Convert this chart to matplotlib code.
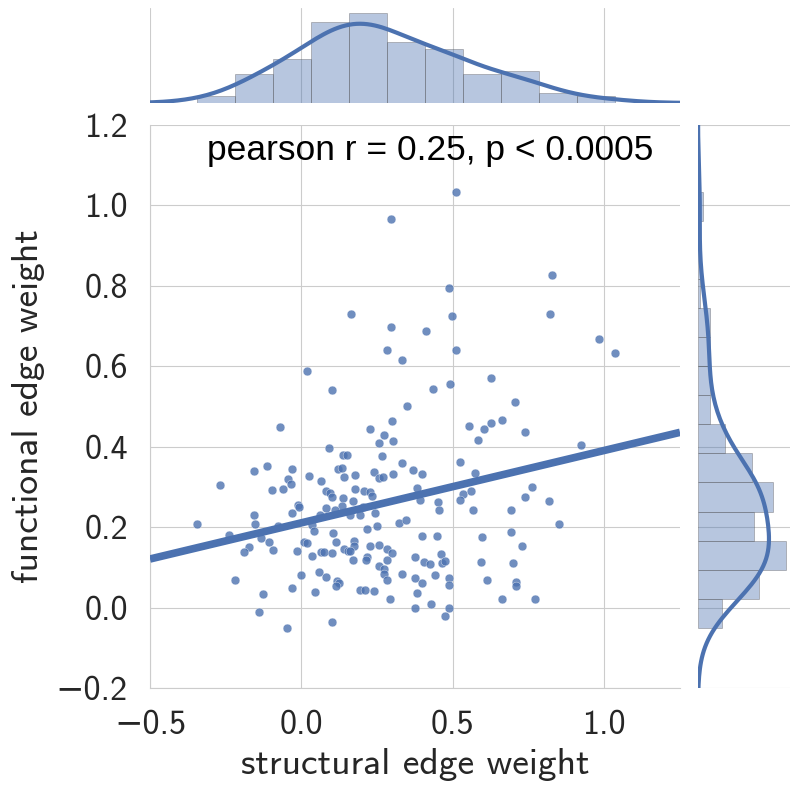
import matplotlib
matplotlib.use("Agg")
import matplotlib.pyplot as plt
import numpy as np
import seaborn as sns

# structural (x) / functional (y) edge weights
struct_w = [0.295, 0.164, 0.295, 0.281, 0.332, 0.017, 0.100, 0.347,
            0.511, 0.829, 0.488, 0.822, 0.496, 0.410, 0.982, 1.034, 0.509, 0.626,
            0.436, 0.492, 0.705,
            -0.071, 0.091, 0.138, 0.152, -0.114, -0.156, -0.031, 0.121, 0.135,
            0.024, 0.140, -0.270, -0.045, -0.035, 0.063, -0.061, -0.098, 0.080,
            0.094, 0.102, 0.136, -0.012, -0.009, 0.133, 0.080, 0.111, -0.156,
            -0.031, 0.061, -0.345, -0.152, -0.079, 0.036, 0.041, -0.238, -0.134,
            0.105, -0.107, 0.009, 0.017, 0.113, -0.172, -0.093, 0.139, -0.189,
            -0.015, 0.063, 0.075, 0.100, 0.153, 0.035, 0.000, 0.059, 0.081,
            -0.218, 0.116, 0.124, 0.114, -0.031, 0.045, -0.128, -0.140, 0.100,
            -0.047,
            0.300, 0.227, 0.271, 0.257, 0.301, 0.552, 0.602, 0.625, 0.662, 0.582,
            0.265, 0.332, 0.178, 0.238, 0.257, 0.270, 0.303, 0.370, 0.399, 0.525,
            0.572, 0.177, 0.206, 0.226, 0.234, 0.382, 0.392, 0.534, 0.559, 0.523,
            0.171, 0.204, 0.450, 0.455, 0.565, 0.691, 0.160, 0.195, 0.243, 0.321,
            0.345, 0.216, 0.250, 0.397, 0.448, 0.597, 0.692, 0.173, 0.174, 0.161,
            0.227, 0.256, 0.283, 0.298, 0.215, 0.213, 0.171, 0.281, 0.374, 0.460,
            0.405, 0.424, 0.463, 0.475, 0.593, 0.697, 0.256, 0.273, 0.271, 0.333,
            0.375, 0.441, 0.281, 0.399, 0.488, 0.488, 0.614, 0.710, 0.710, 0.193,
            0.211, 0.240, 0.383, 0.294, 0.427, 0.662, 0.374, 0.486, 0.474,
            0.737, 0.922, 0.761, 0.739, 0.818, 0.852, 0.727, 0.772]
func_w = [0.966, 0.729, 0.698, 0.640, 0.615, 0.589, 0.541, 0.501,
          1.033, 0.827, 0.794, 0.730, 0.725, 0.687, 0.669, 0.634, 0.641, 0.571,
          0.544, 0.556, 0.510,
          0.450, 0.396, 0.380, 0.380, 0.352, 0.339, 0.344, 0.344, 0.347,
          0.327, 0.325, 0.305, 0.319, 0.307, 0.315, 0.294, 0.293, 0.289,
          0.286, 0.274, 0.272, 0.256, 0.250, 0.253, 0.247, 0.243, 0.231,
          0.235, 0.229, 0.208, 0.207, 0.204, 0.206, 0.191, 0.181, 0.174,
          0.185, 0.162, 0.162, 0.160, 0.162, 0.151, 0.144, 0.146, 0.138,
          0.141, 0.137, 0.137, 0.136, 0.140, 0.127, 0.082, 0.089, 0.077,
          0.068, 0.065, 0.061, 0.053, 0.048, 0.038, 0.034, -0.012, -0.035,
          -0.050,
          0.465, 0.444, 0.430, 0.410, 0.414, 0.452, 0.445, 0.460, 0.466, 0.416,
          0.377, 0.359, 0.330, 0.336, 0.323, 0.324, 0.332, 0.341, 0.332, 0.363,
          0.334, 0.294, 0.290, 0.287, 0.278, 0.297, 0.268, 0.282, 0.291, 0.268,
          0.266, 0.251, 0.262, 0.243, 0.243, 0.243, 0.229, 0.230, 0.235, 0.210,
          0.217, 0.196, 0.202, 0.178, 0.179, 0.175, 0.188, 0.165, 0.152, 0.140,
          0.152, 0.155, 0.146, 0.135, 0.125, 0.118, 0.118, 0.118, 0.125, 0.134,
          0.113, 0.109, 0.112, 0.115, 0.113, 0.112, 0.103, 0.096, 0.084, 0.084,
          0.074, 0.081, 0.068, 0.062, 0.074, 0.056, 0.069, 0.064, 0.053, 0.043,
          0.043, 0.040, 0.037, 0.022, 0.010, 0.021, -0.002, -0.001, -0.020,
          0.437, 0.403, 0.299, 0.275, 0.266, 0.208, 0.154, 0.021]

x_ticks = [-0.5, 0.0, 0.5, 1.0]
y_ticks = [-0.2, 0.0, 0.2, 0.4, 0.6, 0.8, 1.0, 1.2]
stat_text = "pearson r = 0.25, p < 0.0005"

x = np.array(struct_w)
y = np.array(func_w)

sns.set_style("whitegrid")
plt.rcParams['font.family'] = ['cmss10', 'DejaVu Sans']
plt.rcParams['axes.unicode_minus'] = True
blue = "#4C72B0"

fig = plt.figure(figsize=(8, 7.97), dpi=100)
ax = fig.add_axes([0.1875, 0.1368, 0.6625, 0.7064])
ax_top = fig.add_axes([0.1875, 0.8708, 0.6625, 0.119], sharex=ax)
ax_right = fig.add_axes([0.8725, 0.1368, 0.115, 0.7064], sharey=ax)

# main scatter + fit line
ax.scatter(x, y, s=40, color=blue, alpha=0.8, edgecolor="white", linewidth=0.3, zorder=3)
slope, icept = np.polyfit(x, y, 1)
xx = np.array([-0.5, 1.25])
ax.plot(xx, icept + slope * xx, color=blue, lw=5.5, zorder=4, solid_capstyle="butt")

ax.set_xlim(-0.5, 1.25)
ax.set_ylim(-0.2, 1.2)
ax.set_xticks(x_ticks)
ax.set_yticks(y_ticks)
ax.tick_params(labelsize=24.5, colors=".15", length=0, pad=16)
ax.set_xlabel("structural edge weight", fontsize=27, color=".15", labelpad=5)
ax.set_ylabel("functional edge weight", fontsize=27, color=".15", labelpad=8)
for s in ["top", "right"]:
    ax.spines[s].set_visible(False)
for s in ["left", "bottom"]:
    ax.spines[s].set_color(".8")
ax.text(0.949, 0.938, stat_text, transform=ax.transAxes, ha="right", va="baseline",
        fontsize=25.5, family="Liberation Sans", color="black")

# marginal histograms + kde
ax_top.hist(x, bins="fd", density=True, color=blue, alpha=0.4, edgecolor="0.3", linewidth=0.6)
sns.kdeplot(x=x, ax=ax_top, color=blue, lw=3, cut=5, bw_adjust=1.06)
ax_right.hist(y, bins="fd", density=True, orientation="horizontal", color=blue, alpha=0.4,
              edgecolor="0.3", linewidth=0.6)
sns.kdeplot(y=y, ax=ax_right, color=blue, lw=3, cut=5, bw_adjust=1.06)

for a in (ax_top, ax_right):
    for s in a.spines.values():
        s.set_visible(False)
    a.tick_params(labelbottom=False, labelleft=False, length=0)
    a.set_xlabel("")
    a.set_ylabel("")
ax_top.set_ylim(0, None)
ax_top.yaxis.grid(False)
ax_right.set_xlim(0, None)
ax_right.xaxis.grid(False)

plt.savefig("out.png", dpi=100)
